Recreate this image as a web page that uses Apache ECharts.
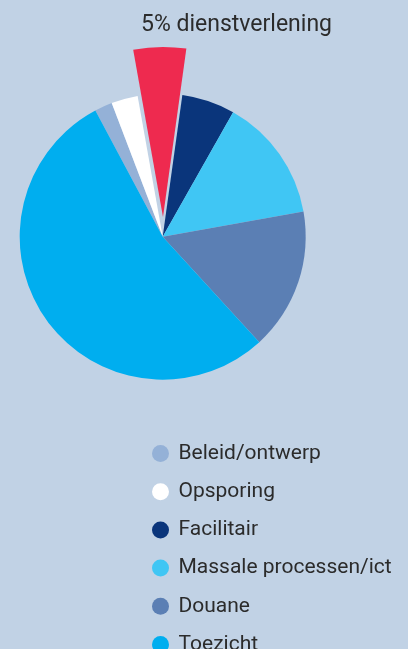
<!DOCTYPE html>
<html>
<head>
<meta charset="utf-8">
<script src="https://cdn.jsdelivr.net/npm/echarts@6/dist/echarts.min.js"></script>
<style>
html,body{margin:0;padding:0;background:#c1d2e5;}
#chart{width:408px;height:649px;}
</style>
</head>
<body>
<div id="chart"></div>
<script>
// Data (percentages), in clockwise order from the Beleid slice
const categories = ['Beleid/ontwerp', 'Opsporing', 'dienstverlening', 'Facilitair', 'Massale processen/ict', 'Douane', 'Toezicht'];
const values = [2, 3, 5, 6, 14, 16, 54];
const colors = ['#94b1d7', '#ffffff', '#ee2a4f', '#0a357b', '#40c6f4', '#5b7fb4', '#00aeef'];
const legendNames = ['Beleid/ontwerp', 'Opsporing', 'Facilitair', 'Massale processen/ict', 'Douane', 'Toezicht'];
const explodedName = 'dienstverlening';

const explodedIdx = categories.indexOf(explodedName);

const mainData = categories.map((c, i) => ({
  name: c, value: values[i],
  itemStyle: { color: i === explodedIdx ? 'rgba(0,0,0,0)' : colors[i] }
}));
const explodedData = categories.map((c, i) => ({
  name: c, value: values[i],
  itemStyle: { color: i === explodedIdx ? colors[i] : 'rgba(0,0,0,0)' }
}));

const chart = echarts.init(document.getElementById('chart'), null, { renderer: 'canvas' });
chart.setOption({
  backgroundColor: '#c1d2e5',
  animation: false,
  title: {
    text: values[explodedIdx] + '% ' + explodedName,
    left: 141,
    top: 14,
    padding: 0,
    textStyle: { fontFamily: 'Roboto', fontWeight: 'normal', fontSize: 23, lineHeight: 23, color: '#2b2b2b' }
  },
  legend: {
    data: legendNames,
    orient: 'vertical',
    left: 147,
    top: 438,
    height: 300,
    icon: 'circle',
    itemWidth: 26,
    itemHeight: 17,
    itemGap: 17.2,
    selectedMode: false,
    textStyle: { fontFamily: 'Roboto', fontSize: 21, lineHeight: 17, color: '#2b2b2b' }
  },
  series: [
    {
      type: 'pie',
      center: [162.7, 236.7],
      radius: [0, 143],
      startAngle: 118.1,
      clockwise: true,
      silent: true,
      label: { show: false },
      labelLine: { show: false },
      itemStyle: { borderWidth: 0 },
      data: mainData
    },
    {
      type: 'pie',
      center: [163, 217],
      radius: [0, 170],
      startAngle: 118.1,
      clockwise: true,
      silent: true,
      legendHoverLink: false,
      label: { show: false },
      labelLine: { show: false },
      itemStyle: { borderWidth: 0 },
      data: explodedData
    }
  ]
});
</script>
</body>
</html>
